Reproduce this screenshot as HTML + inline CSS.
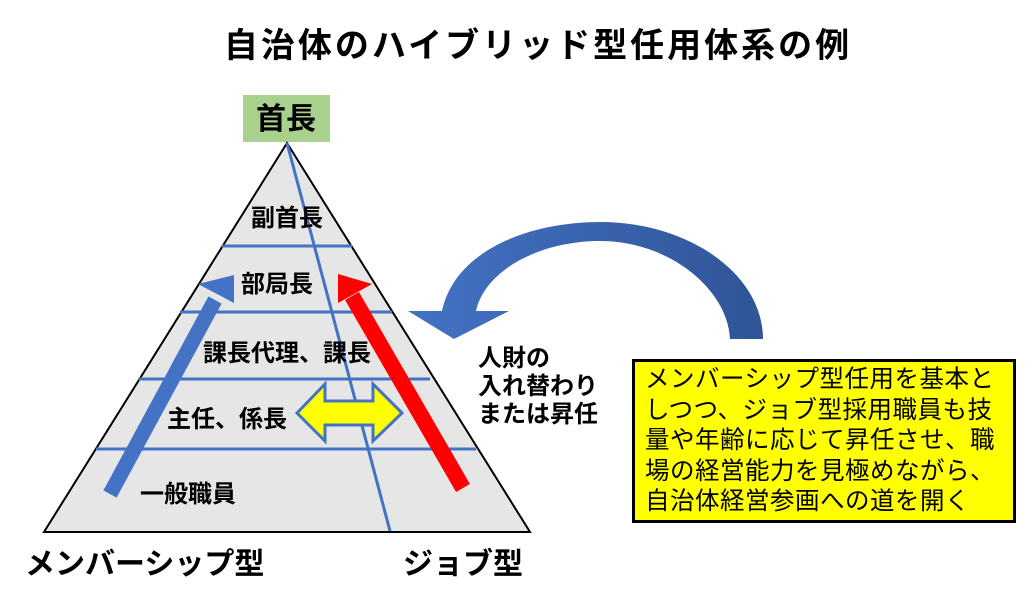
<!DOCTYPE html>
<html><head><meta charset="utf-8"><style>
html,body{margin:0;padding:0;background:#fff;}
body{width:1035px;height:600px;overflow:hidden;position:relative;font-family:"Liberation Sans","Noto Sans CJK JP",sans-serif;}
svg{position:absolute;left:0;top:0;}
svg text{font-family:"Liberation Sans","Noto Sans CJK JP",sans-serif;}
.box{position:absolute;left:632px;top:359px;width:368px;height:155px;border:3px solid #000;background:#ffff00;font-size:24.5px;line-height:30.5px;padding:3px 0 0 10px;box-sizing:content-box;letter-spacing:0.5px;color:#000;}
</style></head><body>
<svg width="1035" height="600" viewBox="0 0 1035 600">
<text x="538" y="57" text-anchor="middle" font-size="34" font-weight="bold" letter-spacing="3">自治体のハイブリッド型任用体系の例</text>
<rect x="243" y="95" width="87" height="47" fill="#a9d18e"/>
<text x="286" y="129" text-anchor="middle" font-size="30" font-weight="bold">首長</text>
<polygon points="287,143 44,532 530,532" fill="#e7e6e6" stroke="#000" stroke-width="2"/>
<g stroke="#4472c4" stroke-width="3">
<line x1="222" y1="246" x2="352" y2="246"/>
<line x1="180" y1="312" x2="392" y2="312"/>
<line x1="139" y1="379" x2="430" y2="379"/>
<line x1="96" y1="449" x2="476" y2="449"/>
<line x1="287" y1="143" x2="390" y2="531"/>
</g>
<line x1="110" y1="494" x2="215" y2="300" stroke="#4472c4" stroke-width="15"/>
<polygon points="198,284 234,275 234,303" fill="#4472c4"/>
<line x1="463" y1="488" x2="352" y2="296" stroke="#ff0000" stroke-width="16"/>
<polygon points="338,274 372,284 338,303" fill="#ff0000"/>
<polygon points="297,413 325,384 325,401 373,401 373,384 402,413 373,441 373,425 325,425 325,441" fill="#ffff00" stroke="#4472c4" stroke-width="3"/>
<defs><linearGradient id="g" x1="0" x2="1" y1="0" y2="0"><stop offset="0" stop-color="#4472c4"/><stop offset="1" stop-color="#2f5597"/></linearGradient></defs>
<path d="M442,311 C455,250 530,222 600,222 C690,222 763,275 763,339 L730,339 C728,290 670,241 600,241 C540,241 485,270 476,311 L509,311 L454,339 L408,311 Z" fill="url(#g)"/>
<g font-weight="bold" font-size="24">
<text x="287" y="226" text-anchor="middle">副首長</text>
<text x="277" y="292" text-anchor="middle">部局長</text>
<text x="287" y="361" text-anchor="middle">課長代理、課長</text>
<text x="227" y="427" text-anchor="middle">主任、係長</text>
<text x="188" y="502" text-anchor="middle">一般職員</text>
<text x="478" y="366">人財の</text>
<text x="478" y="394">入れ替わり</text>
<text x="478" y="422">または昇任</text>
</g>
<text x="25" y="574" font-size="30" font-weight="bold">メンバーシップ型</text>
<text x="403" y="574" font-size="30" font-weight="bold">ジョブ型</text>
</svg>
<div class="box">メンバーシップ型任用を基本と<br>しつつ、ジョブ型採用職員も技<br>量や年齢に応じて昇任させ、職<br>場の経営能力を見極めながら、<br>自治体経営参画への道を開く</div>
</body></html>
